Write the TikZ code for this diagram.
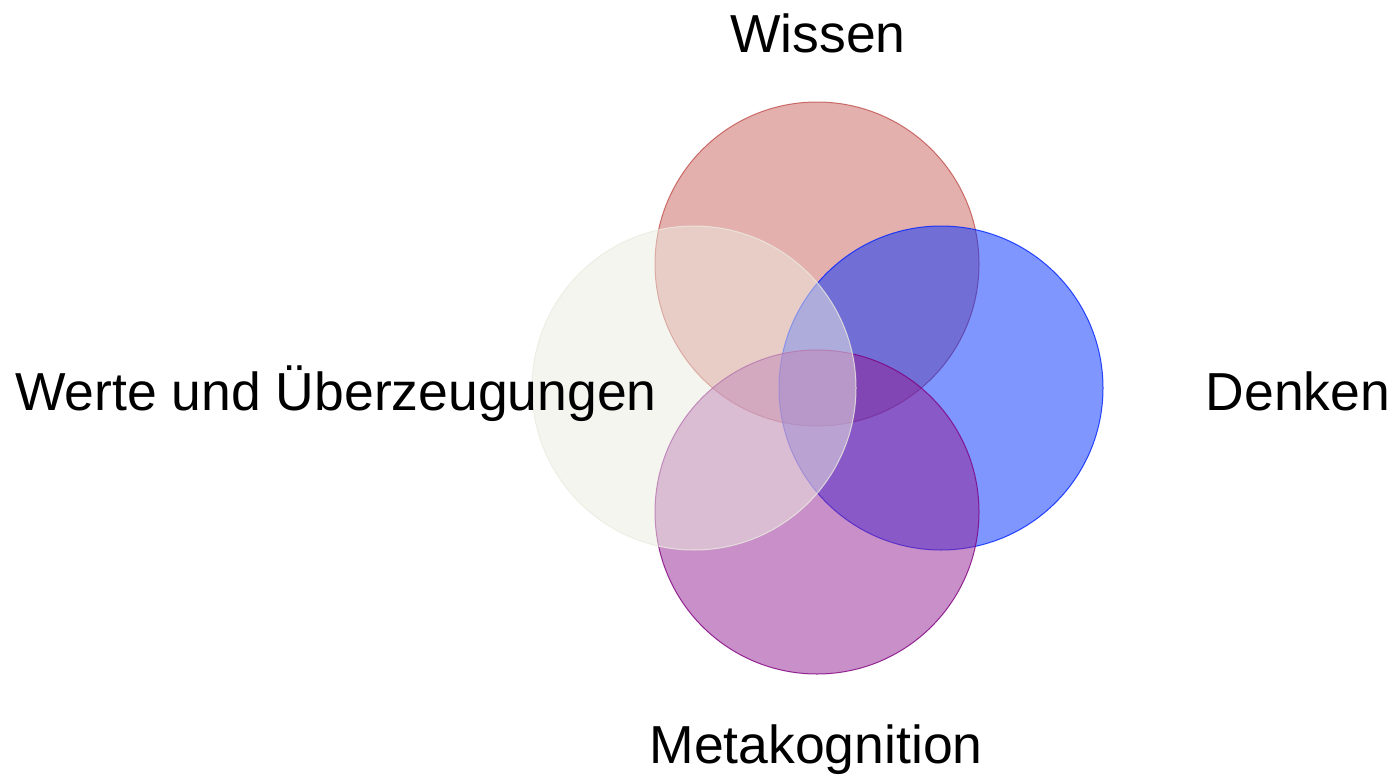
\documentclass[tikz,border=0pt]{standalone}
\usepackage{fontspec}
\setmainfont{Liberation Sans}
\definecolor{wissenfill}{RGB}{201,97,91}
\definecolor{wissendraw}{RGB}{192,80,77}
\definecolor{denkenfill}{RGB}{0,45,253}
\definecolor{denkendraw}{RGB}{0,35,255}
\definecolor{metafill}{RGB}{147,31,145}
\definecolor{metadraw}{RGB}{128,0,128}
\definecolor{wertefill}{RGB}{236,236,224}
\definecolor{wertedraw}{RGB}{234,234,224}
\begin{document}
\begin{tikzpicture}[x=1pt,y=-1pt,
  venn/.style={circle, minimum size=324pt, inner sep=0pt, line width=1pt, fill opacity=0.5, draw opacity=0.8},
  lbl/.style={anchor=base, inner sep=0pt, font=\fontsize{53.5}{62}\selectfont, text=black}]
\useasboundingbox (0,0) rectangle (1394,779);
\node[venn, fill=wissenfill, draw=wissendraw] (wissen) at (817,264) {};
\node[venn, fill=denkenfill, draw=denkendraw] (denken) at (941,388) {};
\node[venn, fill=metafill, draw=metadraw] (meta) at (817,512) {};
\node[venn, fill=wertefill, draw=wertedraw] (werte) at (694,388) {};
\node[lbl] (lwissen) at (818,52) {Wissen};
\node[lbl] (ldenken) at (1298,410) {Denken};
\node[lbl] (lmeta) at (816,763) {Metakognition};
\node[lbl] (lwerte) at (336,410) {Werte und Überzeugungen};
\end{tikzpicture}
\end{document}
